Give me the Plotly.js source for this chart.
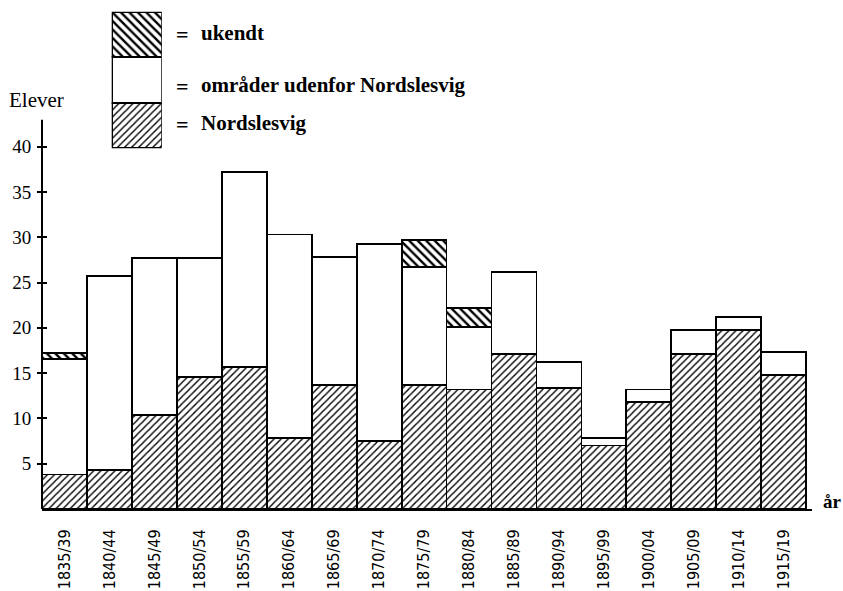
<!DOCTYPE html>
<html>
<head>
<meta charset="utf-8">
<script src="https://cdn.plot.ly/plotly-3.0.1.min.js"></script>
<style>html,body{margin:0;padding:0;background:#fff;}#chart{width:843px;height:591px;}</style>
</head>
<body>
<div id="chart"></div>
<script>
// ---- data ----
const periods = ['1835/39','1840/44','1845/49','1850/54','1855/59','1860/64','1865/69','1870/74','1875/79','1880/84','1885/89','1890/94','1895/99','1900/04','1905/09','1910/14','1915/19'];
const nordslesvig = [3.8, 4.3, 10.4, 14.6, 15.7, 7.8, 13.7, 7.5, 13.7, 13.2, 17.1, 13.4, 7.0, 11.8, 17.1, 19.8, 14.8];
const udenfor     = [12.8, 21.4, 17.3, 13.1, 21.5, 22.5, 14.1, 21.8, 13.0, 6.9, 9.1, 2.8, 0.8, 1.4, 2.7, 1.4, 2.5];
const ukendt      = [0.6, null, null, null, null, null, null, null, 3.0, 2.1, null, null, null, null, null, null, null];
const yTickVals   = [5, 10, 15, 20, 25, 30, 35, 40];
const yTickText   = ['5', '10', '15', '20', '25', '30', '35', '40'];
const legendNames = ['Nordslesvig', 'områder udenfor Nordslesvig', 'ukendt'];
const legendSwatch = [1, 1, 1];

const serif = '"Liberation Serif", "Times New Roman", serif';
const cond = '"DejaVu Sans Condensed", "Liberation Sans Narrow", sans-serif';
const outline = {color: '#000', width: 1.8};

const patN = {shape: '/', fgcolor: '#000', bgcolor: '#fff', size: 5, solidity: 0.28, fillmode: 'replace'};
const patU = {shape: '\\', fgcolor: '#000', bgcolor: '#fff', size: 6, solidity: 0.4, fillmode: 'replace'};

const traces = [
  {type: 'bar', x: periods, y: nordslesvig, name: legendNames[0],
   marker: {color: '#fff', line: outline, pattern: patN}, hoverinfo: 'x+y+name'},
  {type: 'bar', x: periods, y: udenfor, name: legendNames[1],
   marker: {color: '#fff', line: outline}, hoverinfo: 'x+y+name'},
  {type: 'bar', x: periods, y: ukendt, name: legendNames[2],
   marker: {color: '#fff', line: outline, pattern: patU}, hoverinfo: 'x+y+name'},
  // legend swatches drawn on their own small axes
  {type: 'bar', x: ['k'], y: [legendSwatch[0]], xaxis: 'x2', yaxis: 'y2',
   marker: {color: '#fff', line: outline, pattern: patN}, hoverinfo: 'skip'},
  {type: 'bar', x: ['k'], y: [legendSwatch[1]], xaxis: 'x2', yaxis: 'y2',
   marker: {color: '#fff', line: outline}, hoverinfo: 'skip'},
  {type: 'bar', x: ['k'], y: [legendSwatch[2]], xaxis: 'x2', yaxis: 'y2',
   marker: {color: '#fff', line: outline, pattern: patU}, hoverinfo: 'skip'}
];

const L = 42, R = 31, T = 10, B = 82;
const W = 843, H = 591;
const pw = W - L - R, ph = H - T - B;
const px = v => (v - L) / pw;
const py = v => (H - B - v) / ph;

const mainTop = py(119.5);
const txt = (size) => ({family: serif, size: size, color: '#000'});

const layout = {
  width: W, height: H,
  margin: {l: L, r: R, t: T, b: B},
  paper_bgcolor: '#fff', plot_bgcolor: 'rgba(0,0,0,0)',
  showlegend: false,
  barmode: 'stack', bargap: 0,
  font: {family: serif, color: '#000'},
  xaxis: {
    domain: [0, 1], range: [-0.5, 16.63], type: 'category',
    showline: true, linecolor: '#000', linewidth: 2,
    ticks: '', showgrid: false, zeroline: false,
    tickangle: -90, ticklabelstandoff: 12,
    tickfont: {family: cond, size: 16, color: '#000'}
  },
  // tick crosses: axis placed 5px inside the plot with 10px outside ticks
  yaxis: {
    domain: [0, mainTop], range: [0, 43], anchor: 'free', position: 5 / pw,
    showline: false,
    ticks: 'outside', ticklen: 10, tickwidth: 2, tickcolor: '#000',
    tickvals: yTickVals, ticktext: yTickText, ticklabelstandoff: 2,
    showgrid: false, zeroline: false, layer: 'above traces',
    tickfont: {family: serif, size: 19, color: '#000'}
  },
  xaxis2: {
    domain: [px(111.7), px(161.7)], anchor: 'y2', range: [-0.5, 0.5], type: 'category',
    visible: false, fixedrange: true
  },
  yaxis2: {
    domain: [py(148.3), py(11.7)], anchor: 'x2', range: [0, 3],
    visible: false, fixedrange: true
  },
  shapes: [
    // vertical axis line at the left edge of the plot
    {type: 'line', xref: 'paper', yref: 'y', x0: 0, x1: 0, y0: 0, y1: 43,
     line: {color: '#000', width: 2}, layer: 'above'}
  ],
  annotations: [
    {xref: 'paper', yref: 'paper', x: px(174), y: py(34), xanchor: 'left', yanchor: 'middle',
     text: '<b>=</b>', showarrow: false, font: txt(22)},
    {xref: 'paper', yref: 'paper', x: px(199), y: py(33), xanchor: 'left', yanchor: 'middle',
     text: '<b>' + legendNames[2] + '</b>', showarrow: false, font: txt(21)},
    {xref: 'paper', yref: 'paper', x: px(174), y: py(86), xanchor: 'left', yanchor: 'middle',
     text: '<b>=</b>', showarrow: false, font: txt(22)},
    {xref: 'paper', yref: 'paper', x: px(199), y: py(85), xanchor: 'left', yanchor: 'middle',
     text: '<b>' + legendNames[1] + '</b>', showarrow: false, font: txt(21)},
    {xref: 'paper', yref: 'paper', x: px(174), y: py(124), xanchor: 'left', yanchor: 'middle',
     text: '<b>=</b>', showarrow: false, font: txt(22)},
    {xref: 'paper', yref: 'paper', x: px(199), y: py(123), xanchor: 'left', yanchor: 'middle',
     text: '<b>' + legendNames[0] + '</b>', showarrow: false, font: txt(21)},
    {xref: 'paper', yref: 'paper', x: px(7), y: py(100), xanchor: 'left', yanchor: 'middle',
     text: 'Elever', showarrow: false, font: txt(21)},
    {xref: 'paper', yref: 'paper', x: px(821), y: py(501), xanchor: 'left', yanchor: 'middle',
     text: '<b>år</b>', showarrow: false, font: txt(19)}
  ]
};

Plotly.newPlot('chart', traces, layout, {staticPlot: true, displayModeBar: false});
</script>
</body>
</html>
